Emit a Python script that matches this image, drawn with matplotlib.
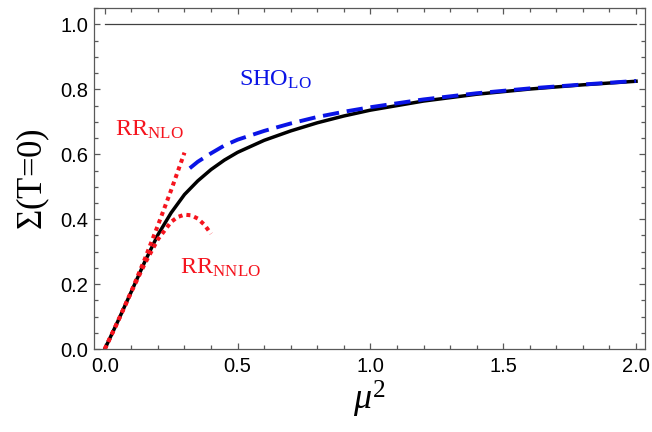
import matplotlib
matplotlib.use("Agg")
import matplotlib.pyplot as plt
from matplotlib.ticker import MultipleLocator, FormatStrFormatter

plt.rcParams['mathtext.fontset'] = 'custom'
plt.rcParams['mathtext.rm'] = 'Liberation Serif'
plt.rcParams['mathtext.it'] = 'Liberation Serif:italic'

# full result (black)
mu2_full = [0, 0.05, 0.1, 0.15, 0.2, 0.25, 0.3, 0.35, 0.4, 0.45, 0.5, 0.6, 0.7,
            0.8, 0.9, 1.0, 1.2, 1.4, 1.6, 1.8, 2.0]
sig_full = [0, 0.087, 0.177, 0.268, 0.352, 0.42, 0.476, 0.518, 0.553, 0.582,
            0.606, 0.643, 0.672, 0.697, 0.718, 0.736, 0.764, 0.785, 0.801,
            0.814, 0.825]

# SHO leading order (blue dashed)
mu2_sho = [0.32, 0.35, 0.4, 0.45, 0.5, 0.6, 0.7, 0.8, 0.9, 1.0, 1.2, 1.4,
           1.6, 1.8, 2.0]
sig_sho = [0.557, 0.577, 0.603, 0.627, 0.645, 0.672, 0.695, 0.715, 0.731,
           0.745, 0.769, 0.788, 0.803, 0.815, 0.826]

# RR NLO (red dotted)
mu2_nlo = [0, 0.05, 0.1, 0.15, 0.2, 0.25, 0.3]
sig_nlo = [0, 0.086, 0.178, 0.276, 0.381, 0.49, 0.605]

# RR NNLO (red dotted)
mu2_nnlo = [0, 0.05, 0.1, 0.15, 0.2, 0.25, 0.275, 0.3, 0.325, 0.35, 0.375, 0.4]
sig_nnlo = [0, 0.087, 0.176, 0.262, 0.338, 0.392, 0.407, 0.414, 0.412, 0.402,
            0.383, 0.355]

fig = plt.figure(figsize=(6.52, 4.32), dpi=100)
ax = fig.add_axes([0.144, 0.192, 0.845, 0.789])

ax.plot([0, 2], [1, 1], color='0.25', lw=0.9)
ax.plot(mu2_full, sig_full, color='black', lw=2.5)
ax.plot(mu2_sho, sig_sho, color='#0a14e6', lw=2.8, dashes=(4.2, 2.0))
ax.plot(mu2_nlo, sig_nlo, color='#f5141e', lw=2.9, dashes=(1, 1))
ax.plot(mu2_nnlo, sig_nnlo, color='#f5141e', lw=2.9, dashes=(1, 1))

ax.text(0.505, 0.83, r'SHO$_{\mathrm{LO}}$', color='#0a14e6',
        fontsize=17.5, family='Liberation Serif', va='center')
ax.text(0.04, 0.675, r'RR$_{\mathrm{NLO}}$', color='#f5141e',
        fontsize=17.5, family='Liberation Serif', va='center')
ax.text(0.285, 0.25, r'RR$_{\mathrm{NNLO}}$', color='#f5141e',
        fontsize=17.5, family='Liberation Serif', va='center')

ax.set_xlim(-0.041, 2.033)
ax.set_ylim(0, 1.05)
ax.xaxis.set_major_locator(MultipleLocator(0.5))
ax.xaxis.set_minor_locator(MultipleLocator(0.1))
ax.yaxis.set_major_locator(MultipleLocator(0.2))
ax.yaxis.set_minor_locator(MultipleLocator(0.05))
ax.xaxis.set_major_formatter(FormatStrFormatter('%.1f'))
ax.yaxis.set_major_formatter(FormatStrFormatter('%.1f'))

ax.tick_params(which='both', direction='in', top=True, right=True,
               color='0.35', width=0.9, labelsize=14.5)
ax.tick_params(which='major', length=4.5)
ax.tick_params(which='minor', length=2.6)
ax.tick_params(axis='x', which='major', pad=6)
ax.tick_params(axis='y', which='major', pad=4)
for lab in ax.get_xticklabels() + ax.get_yticklabels():
    lab.set_family('Liberation Sans')
for sp in ax.spines.values():
    sp.set_color('0.35')
    sp.set_linewidth(0.9)

ax.set_xlabel(r'$\mu^2$', fontsize=26, labelpad=2)
ax.set_ylabel(r'$\Sigma$(T=0)', fontsize=25, family='Liberation Serif',
              labelpad=6)

fig.savefig('out.png', dpi=100)
